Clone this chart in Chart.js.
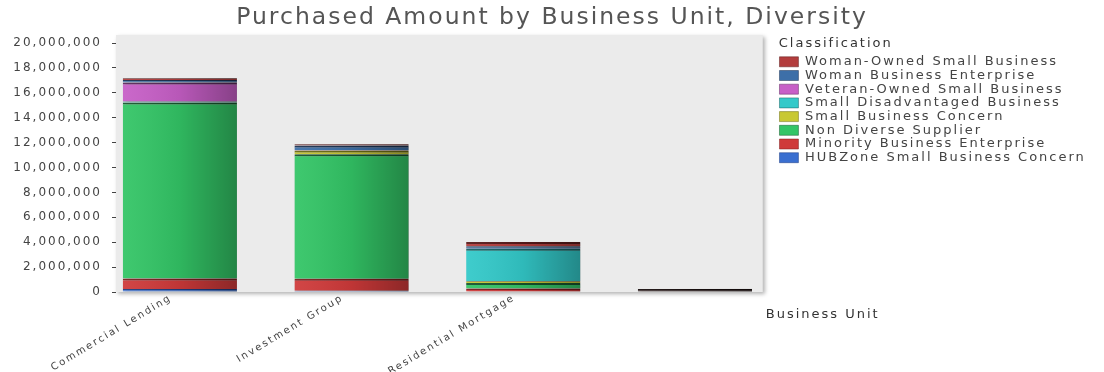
<!DOCTYPE html>
<html>
<head>
<meta charset="utf-8">
<script src="https://cdn.jsdelivr.net/npm/chart.js@4.4.1/dist/chart.umd.min.js"></script>
<style>
  html, body { margin: 0; padding: 0; background: #fff; }
  #wrap { width: 1104px; height: 372px; position: relative; }
</style>
</head>
<body>
<div id="wrap"><canvas id="chart"></canvas></div>
<script>
// datos (bottom -> top del stack)
const unidades = ["Commercial Lending", "Investment Group", "Residential Mortgage", ""];
const hubzone = [250000, 100000, 50000, 0];
const minority = [830000, 960000, 230000, 0];
const nonDiverse = [14140000, 10000000, 450000, 0];
const smallBizConcern = [0, 300000, 140000, 0];
const smallDisadvantaged = [80000, 0, 2600000, 0];
const veteranOwned = [1530000, 50000, 0, 0];
const womanEnterprise = [200000, 350000, 200000, 0];
const womanOwned = [140000, 100000, 350000, 250000];
const yTicks = [0, 2000000, 4000000, 6000000, 8000000, 10000000, 12000000, 14000000, 16000000, 18000000, 20000000];

const FONT = "'DejaVu Sans', Verdana, sans-serif";
const yTop = yTicks[yTicks.length - 1];

function serie(label, data, color, dark) {
  return {
    label: label,
    data: data,
    backgroundColor: (c) => (c.dataIndex === 3 ? "#2b1b1b" : color),
    borderColor: (c) => (c.dataIndex === 3 ? "#1a1010" : dark),
    borderWidth: { top: 2, left: 0, right: 0, bottom: 0 },
    borderSkipped: false,
    barPercentage: 0.665,
    categoryPercentage: 1,
  };
}

// espaciado de letras en todo el canvas
const espaciado = {
  id: "espaciado",
  beforeUpdate(chart) { chart.ctx.letterSpacing = "2px"; },
  beforeLayout(chart) { chart.ctx.letterSpacing = "2px"; },
  beforeDraw(chart) { chart.ctx.letterSpacing = "2px"; },
};

// area gris del plot, leyenda, titulo y posicion del eje x
const fondo = {
  id: "fondo",
  afterLayout(chart) {
    const a = chart.chartArea;
    const lg = chart.legend;
    const right = lg.left - 16;
    // la leyenda mide sin el espaciado, se ensancha hasta el borde
    lg.right = chart.width;
    lg.width = lg.right - lg.left;
    // titulo centrado en todo el ancho
    const t = chart.titleBlock;
    t.left = 0;
    t.right = chart.width;
    t.width = chart.width;
    chart.$plot = { left: a.left, right: right, top: a.top, bottom: a.bottom };
    const x = chart.scales.x;
    x.left = a.left - 22;
    x.right = right + 18;
    x.width = x.right - x.left;
    x.configure();
  },
  beforeDatasetsDraw(chart) {
    const ctx = chart.ctx;
    const p = chart.$plot;
    ctx.save();
    ctx.shadowColor = "rgba(0,0,0,0.3)";
    ctx.shadowBlur = 4;
    ctx.shadowOffsetX = 2;
    ctx.shadowOffsetY = 2;
    ctx.fillStyle = "#ebebeb";
    ctx.fillRect(p.left, p.top, p.right - p.left, p.bottom - p.top);
    ctx.restore();
    ctx.save();
    ctx.shadowColor = "rgba(0,0,0,0.3)";
    ctx.shadowBlur = 3;
    ctx.shadowOffsetX = 2;
    ctx.shadowOffsetY = 1;
  },
  afterDatasetsDraw(chart) {
    const ctx = chart.ctx;
    ctx.restore();
    const a = chart.chartArea;
    ctx.save();
    ctx.beginPath();
    ctx.rect(a.left, a.top, a.width, a.height);
    ctx.clip();
    chart.data.datasets.forEach((ds, i) => {
      const meta = chart.getDatasetMeta(i);
      if (meta.hidden) return;
      meta.data.forEach((bar) => {
        const { x, y, base, width } = bar.getProps(["x", "y", "base", "width"], true);
        const top = Math.min(y, base);
        const h = Math.abs(base - y);
        if (h < 0.5) return;
        const g = ctx.createLinearGradient(x - width / 2, 0, x + width / 2, 0);
        g.addColorStop(0, "rgba(255,255,255,0.06)");
        g.addColorStop(0.5, "rgba(0,0,0,0.08)");
        g.addColorStop(1, "rgba(0,0,0,0.32)");
        ctx.fillStyle = g;
        ctx.fillRect(x - width / 2, top, width, h);
      });
    });
    ctx.restore();
  },
  afterDraw(chart) {
    const ctx = chart.ctx;
    const p = chart.$plot;
    ctx.save();
    ctx.letterSpacing = "2px";
    ctx.font = "13px " + FONT;
    ctx.fillStyle = "#333";
    ctx.textAlign = "left";
    ctx.textBaseline = "middle";
    ctx.fillText("Business Unit", p.right + 3, p.bottom + 23);
    ctx.restore();
  },
};

new Chart(document.getElementById("chart"), {
  type: "bar",
  data: {
    labels: unidades,
    datasets: [
      serie("HUBZone Small Business Concern", hubzone, "#3a6fd0", "#1f3d80"),
      serie("Minority Business Enterprise", minority, "#cf3a3a", "#7a1e1e"),
      serie("Non Diverse Supplier", nonDiverse, "#33c566", "#17562d"),
      serie("Small Business Concern", smallBizConcern, "#c8c832", "#6b6b15"),
      serie("Small Disadvantaged Business", smallDisadvantaged, "#33c9c9", "#176060"),
      serie("Veteran-Owned Small Business", veteranOwned, "#c75fc7", "#5e2a5e"),
      serie("Woman Business Enterprise", womanEnterprise, "#3d6fa8", "#1c3352"),
      serie("Woman-Owned Small Business", womanOwned, "#b33d3d", "#5a1c1c"),
    ],
  },
  options: {
    responsive: true,
    maintainAspectRatio: false,
    animation: false,
    layout: { padding: { left: 10, right: 69, top: 0, bottom: 0 } },
    scales: {
      x: {
        stacked: true,
        grid: { display: false, drawTicks: false },
        border: { display: false },
        ticks: {
          color: "#444",
          font: { size: 10, family: FONT },
          minRotation: 31,
          maxRotation: 31,
          autoSkip: false,
          padding: 0,
          labelOffset: -9,
        },
        afterFit: (s) => {
          s.height = 80;
          s.paddingLeft = 0;
          s.paddingRight = 0;
        },
      },
      y: {
        stacked: true,
        min: 0,
        max: yTop * 257 / 249,
        afterBuildTicks: (s) => {
          s.ticks = yTicks.map((v) => ({ value: v }));
        },
        afterFit: (s) => {
          s.width = 106;
          s.paddingTop = 0;
          s.paddingBottom = 0;
        },
        ticks: {
          color: "#444",
          font: { size: 12, family: FONT },
          padding: 10,
          callback: (v) => Number(v).toLocaleString("en-US"),
        },
        grid: { drawOnChartArea: false, tickLength: 4, tickColor: "#444" },
        border: { display: false },
      },
    },
    plugins: {
      title: {
        display: true,
        text: "Purchased Amount by Business Unit, Diversity",
        color: "#555",
        font: { size: 23.5, family: FONT, weight: "normal" },
        padding: { top: 3.5, bottom: 3.3 },
      },
      legend: {
        position: "right",
        align: "start",
        fullSize: false,
        reverse: true,
        title: {
          display: true,
          text: "Classification",
          color: "#333",
          font: { size: 13, family: FONT },
          position: "start",
          padding: { top: 2, bottom: 2 },
        },
        labels: {
          boxWidth: 19,
          boxHeight: 10,
          padding: 0.7,
          color: "#444",
          font: { size: 13, family: FONT },
        },
      },
      tooltip: { enabled: false },
    },
  },
  plugins: [espaciado, fondo],
});
</script>
</body>
</html>
